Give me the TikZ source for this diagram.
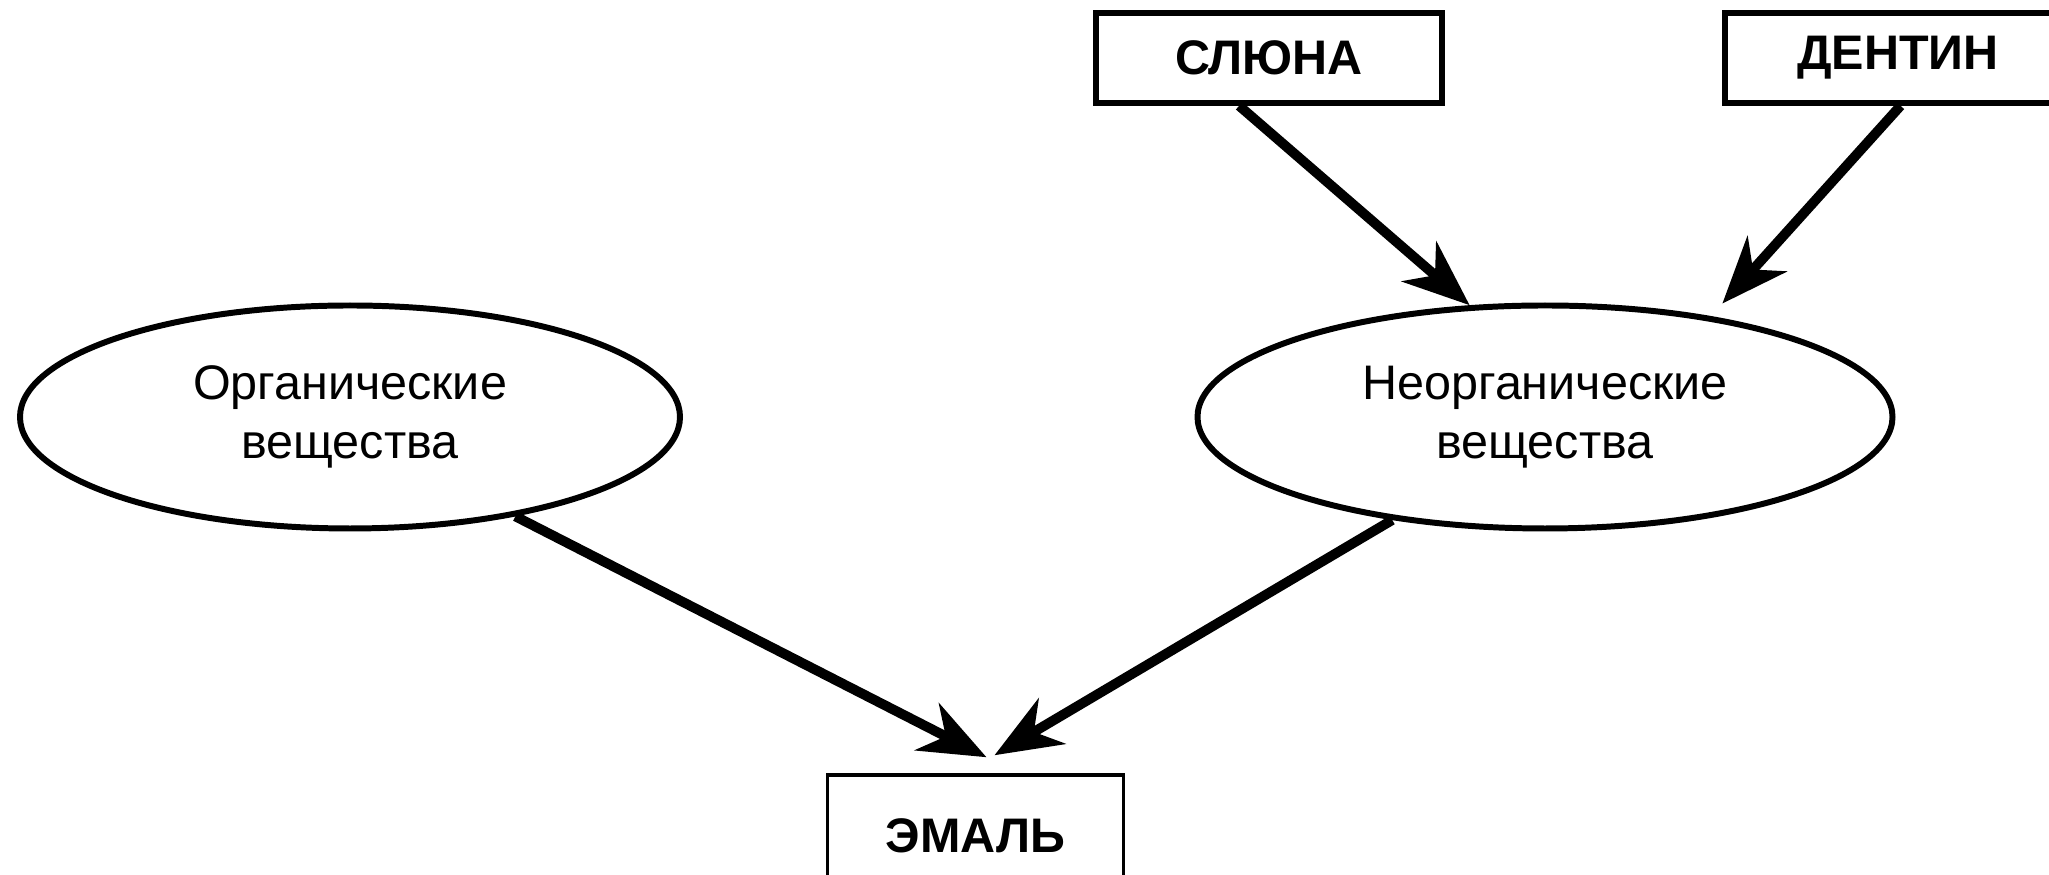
\documentclass[tikz,border=0pt]{standalone}
\usepackage{fontspec}
\setmainfont{Liberation Sans}
\usetikzlibrary{shapes.geometric,arrows.meta}

\begin{document}
\begin{tikzpicture}[
    every node/.style={font=\fontsize{13.8}{16.6}\selectfont, align=center},
    substance/.style={ellipse, draw, line width=1.7pt, inner sep=0pt},
    sourcebox/.style={rectangle, draw, line width=1.6pt, minimum width=3.46cm, minimum height=0.90cm, font=\fontsize{13.8}{16.6}\selectfont\bfseries},
    flow/.style={-{Stealth[length=19pt, width=15pt, inset=6pt]}, line width=2.8pt}]
    \useasboundingbox (0, 0) rectangle (20.49, 8.75);
    \node[substance, minimum width=6.60cm, minimum height=2.23cm] (org) at (3.50, 4.58) {Органические\\вещества};
    \node[substance, minimum width=6.95cm, minimum height=2.23cm] (neorg) at (15.45, 4.58) {Неорганические\\вещества};
    \node[sourcebox] (sluna) at (12.69, 8.17) {СЛЮНА};
    \node[sourcebox] (dentin) at (18.98, 8.17) {ДЕНТИН};
    \node[rectangle, draw, line width=1pt, minimum width=2.96cm, minimum height=1.22cm, font=\fontsize{13.8}{16.6}\selectfont\bfseries] (emal) at (9.755, 0.39) {ЭМАЛЬ};
    \draw[flow] (sluna.-122) -- (neorg.124);
    \draw[flow] (dentin.-87) -- ([xshift=1.5mm, yshift=1.2mm]neorg.32);
    \draw[flow] (org.-31) -- ([xshift=1.1mm, yshift=1.6mm]emal.north);
    \draw[flow] (neorg.-146) -- ([xshift=1.9mm, yshift=1.8mm]emal.north);
  \end{tikzpicture}
\end{document}
